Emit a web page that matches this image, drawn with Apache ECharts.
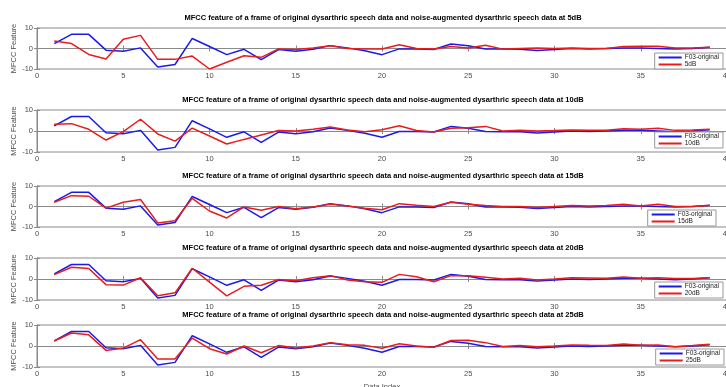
<!DOCTYPE html>
<html>
<head>
<meta charset="utf-8">
<script src="https://cdn.jsdelivr.net/npm/echarts@6/dist/echarts.min.js"></script>
<style>
html,body{margin:0;padding:0;background:#fff;}
#chart{width:726px;height:387px;}
</style>
</head>
<body>
<div id="chart"></div>
<script>
// ---- data ----
const dataIndex = [1,2,3,4,5,6,7,8,9,10,11,12,13,14,15,16,17,18,19,20,21,22,23,24,25,26,27,28,29,30,31,32,33,34,35,36,37,38,39];
const original = [2.4,6.9,6.9,-0.8,-1.3,0.3,-9.0,-7.8,4.9,1.0,-3.0,-0.4,-5.4,-0.5,-1.3,-0.4,1.4,0.3,-1.1,-3.0,-0.2,-0.2,-0.5,2.2,1.3,-0.2,-0.3,-0.4,-1.0,-0.5,0,-0.2,0,0.3,0.3,0,-0.3,0,0.6];
const snr5  = [3.7,2.4,-2.9,-5.1,4.5,6.4,-5.3,-5.3,-3.7,-10,-6.7,-3.5,-4.3,-0.2,-0.5,0.3,1.3,0,-0.2,-0.2,1.8,0,-0.3,1.0,0.3,1.6,-0.3,0,0.2,0,0.2,0,0,1.0,1.1,1.1,0.3,0.3,0.6];
const snr10 = [3.2,3.5,0.8,-4.3,-0.3,5.6,-1.4,-4.8,1.4,-2.4,-6.2,-4.0,-1.9,0.2,0,0.8,1.9,0.5,-0.3,0.6,2.5,0.2,-0.5,1.3,1.6,2.2,0,0.3,0,0.2,0.5,0.3,0.3,1.1,0.8,1.3,0.3,0.5,0.8];
const snr15 = [2.1,5.3,5.0,-0.8,2.1,3.4,-8.0,-6.9,4.0,-2.2,-5.6,-0.2,-1.8,0,-1.1,-0.2,1.1,0.3,-0.9,-1.6,1.4,0.6,0,2.1,1.1,0.5,0,0,-0.5,0,0.5,0.3,0.5,1.1,0.2,1.1,0,0,0.5];
const snr20 = [2.1,5.6,5.0,-2.7,-2.9,0.6,-8.0,-6.6,5.1,-1.5,-8.0,-3.5,-3.0,-0.2,-0.8,0.6,1.6,-0.5,-1.3,-1.6,2.2,1.1,-1.3,1.6,1.6,0.8,0,0.3,-0.5,0,0.6,0.5,0.3,1.0,0.3,0.6,0.2,0.2,0.6];
const snr25 = [2.4,6.2,5.3,-2.1,-1.0,3.0,-6.2,-6.2,3.8,-1.3,-3.8,0,-3.2,0.2,-1.0,0,1.6,0.6,0.3,-1.1,1.1,0,-0.6,2.6,2.7,1.6,-0.2,0.2,-0.3,0,0.5,0.3,0.2,1.0,0.3,0.5,-0.3,0.2,0.8];
const noiseNames = ['5dB','10dB','15dB','20dB','25dB'];
const noiseSeries = [snr5, snr10, snr15, snr20, snr25];
const originalName = 'F03-original';
const titlePrefix = 'MFCC feature of a frame of original dysarthric speech data and noise-augmented dysarthric speech data at ';
const xMin = 0, xMax = 40, xInterval = 5;
const yMin = -10, yMax = 10, yInterval = 10;
const yLabel = 'MFCC Feature';
const xLabel = 'Data Index';

// ---- layout ----
const gridLeft = 37, gridWidth = 690;
const gridTops = [28, 110, 186, 258, 325];
const gridHeights = [41, 42, 41, 42, 42];
const legendTops = [53, 132, 210, 282, 349];
const legendRights = [3, 3, 10, 3, 2];
const axisColor = '#8a8a8a';
const labelColor = '#4d4d4d';
const font = 'Liberation Sans, Arial, sans-serif';

const grids = [], xAxes = [], yAxes = [], series = [], titles = [], legends = [];
const toPairs = arr => arr.map((v, i) => [dataIndex[i], v]);

for (let i = 0; i < 5; i++) {
  grids.push({left: gridLeft, top: gridTops[i], width: gridWidth, height: gridHeights[i],
    outerBoundsMode: 'none', containLabel: false,
    show: true, borderColor: axisColor, borderWidth: 1, backgroundColor: '#fff'});
  // bottom x axis
  xAxes.push({type: 'value', gridIndex: i, min: xMin, max: xMax, interval: xInterval, position: 'bottom',
    axisLine: {show: true, lineStyle: {color: axisColor}},
    axisTick: {show: true, inside: true, length: 3, lineStyle: {color: axisColor}},
    axisLabel: {show: true, color: labelColor, fontSize: 7.5, fontFamily: font, margin: 3, hideOverlap: false},
    splitLine: {show: false},
    name: i === 4 ? xLabel : '', nameLocation: 'middle', nameGap: 16, nameMoveOverlap: false,
    nameTextStyle: {color: labelColor, fontSize: 7.5, fontFamily: font}});
  // top mirrored axis
  xAxes.push({type: 'value', gridIndex: i, min: xMin, max: xMax, interval: xInterval, position: 'top',
    axisLine: {show: true, lineStyle: {color: axisColor}},
    axisTick: {show: true, inside: true, length: 3, lineStyle: {color: axisColor}},
    axisLabel: {show: false}, splitLine: {show: false}});
  yAxes.push({type: 'value', gridIndex: i, min: yMin, max: yMax, interval: yInterval, position: 'left',
    axisLine: {show: true, lineStyle: {color: axisColor}},
    axisTick: {show: true, inside: true, length: 3, lineStyle: {color: axisColor}},
    axisLabel: {show: true, color: labelColor, fontSize: 7.5, fontFamily: font, margin: 4},
    splitLine: {show: false},
    name: yLabel, nameLocation: 'middle', nameGap: 19, nameRotate: 90, nameMoveOverlap: false,
    nameTextStyle: {color: labelColor, fontSize: 7.5, fontFamily: font}});
  yAxes.push({type: 'value', gridIndex: i, min: yMin, max: yMax, interval: yInterval, position: 'right',
    axisLine: {show: true, lineStyle: {color: axisColor}},
    axisTick: {show: true, inside: true, length: 3, lineStyle: {color: axisColor}},
    axisLabel: {show: false}, splitLine: {show: false}});

  series.push({name: originalName, type: 'line', xAxisIndex: 2*i, yAxisIndex: 2*i,
    data: toPairs(original), showSymbol: false, symbol: 'none',
    lineStyle: {color: '#1a1aeb', width: 1.5}, itemStyle: {color: '#1a1aeb'}, z: 2});
  series.push({name: noiseNames[i], type: 'line', xAxisIndex: 2*i, yAxisIndex: 2*i,
    data: toPairs(noiseSeries[i]), showSymbol: false, symbol: 'none',
    lineStyle: {color: '#e81c1c', width: 1.5}, itemStyle: {color: '#e81c1c'}, z: 3});

  titles.push({text: titlePrefix + noiseNames[i], left: 383, textAlign: 'center',
    top: gridTops[i] - 14, padding: 0,
    textStyle: {fontSize: 7.5, fontWeight: 'bold', color: '#000', fontFamily: font}});

  legends.push({data: [originalName, noiseNames[i]], orient: 'vertical', right: legendRights[i], top: legendTops[i],
    backgroundColor: '#fff', borderColor: '#999', borderWidth: 1, borderRadius: 0,
    padding: [1, 4, 1, 4], itemGap: 0, itemWidth: 23, itemHeight: 2, icon: 'rect',
    selectedMode: false,
    textStyle: {fontSize: 6.5, color: '#222', fontFamily: font, padding: [0,0,0,-2]}});
}

const chart = echarts.init(document.getElementById('chart'), null, {renderer: 'canvas'});
chart.setOption({
  animation: false,
  backgroundColor: '#fff',
  title: titles,
  legend: legends,
  grid: grids,
  xAxis: xAxes,
  yAxis: yAxes,
  series: series
});
</script>
</body>
</html>
